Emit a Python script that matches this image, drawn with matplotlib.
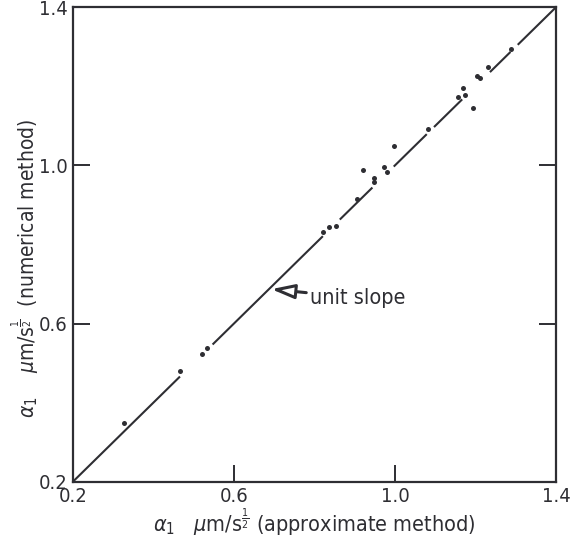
import matplotlib
matplotlib.use('Agg')
import matplotlib.pyplot as plt

# alpha_1: approximate method (x) vs numerical method (y)
alpha_approx = [0.327, 0.467, 0.520, 0.533, 0.822, 0.837, 0.853, 0.906, 0.948, 0.948,
                0.920, 0.973, 0.981, 0.997, 1.082, 1.157, 1.173, 1.169, 1.195, 1.205,
                1.211, 1.230, 1.288]
alpha_numer = [0.348, 0.481, 0.522, 0.539, 0.832, 0.843, 0.847, 0.916, 0.969, 0.958,
               0.989, 0.997, 0.983, 1.049, 1.092, 1.174, 1.177, 1.195, 1.146, 1.225,
               1.220, 1.249, 1.295]

# pieces of the hand drawn unit slope line (it is broken where points sit)
slope_pieces = [(0.20, 0.466), (0.547, 0.821), (0.863, 0.944), (0.997, 1.079),
                (1.097, 1.167), (1.236, 1.287), (1.305, 1.40)]

ticks = [0.2, 0.6, 1.0, 1.4]
tick_labels = ['0.2', '0.6', '1.0', '1.4']

ink = '#2e2e33'
plt.rcParams['font.family'] = ['DejaVu Sans']
plt.rcParams['font.stretch'] = 'condensed'
plt.rcParams['mathtext.fontset'] = 'dejavusans'

fig = plt.figure(figsize=(5.74, 5.41), dpi=100)
ax = fig.add_axes([0.127, 0.1096, 0.8416, 0.877])

for x0, x1 in slope_pieces:
    ax.plot([x0, x1], [x0, x1], color=ink, lw=1.5, solid_capstyle='butt')

ax.plot(alpha_approx, alpha_numer, 'o', color=ink, ms=3.6, mew=0)

ax.annotate('unit slope', xy=(0.693, 0.687), xytext=(0.79, 0.665),
            fontsize=15.5, color=ink, va='center', ha='left',
            arrowprops=dict(arrowstyle='-|>,head_length=0.9,head_width=0.28',
                            fc='white', ec=ink, lw=2.2, shrinkA=1, shrinkB=0))

ax.set_xlim(0.2, 1.4)
ax.set_ylim(0.2, 1.4)
ax.set_xticks(ticks)
ax.set_yticks(ticks)
ax.set_xticklabels(tick_labels)
ax.set_yticklabels(tick_labels)
ax.tick_params(axis='both', which='major', direction='in', length=12, width=1.4,
               colors=ink, labelsize=14.5, right=True, top=False, pad=4)
for side in ax.spines.values():
    side.set_linewidth(1.6)
    side.set_color(ink)

ax.set_xlabel(r'$\alpha_1$   $\mu$m/s$^{\frac{1}{2}}$ (approximate method)',
              fontsize=15.5, color=ink, labelpad=0)
ax.set_ylabel(r'$\alpha_1$    $\mu$m/s$^{\frac{1}{2}}$  (numerical method)',
              fontsize=15, color=ink)
ax.yaxis.set_label_coords(-0.066, 0.45)

fig.savefig('out.png', dpi=100)
